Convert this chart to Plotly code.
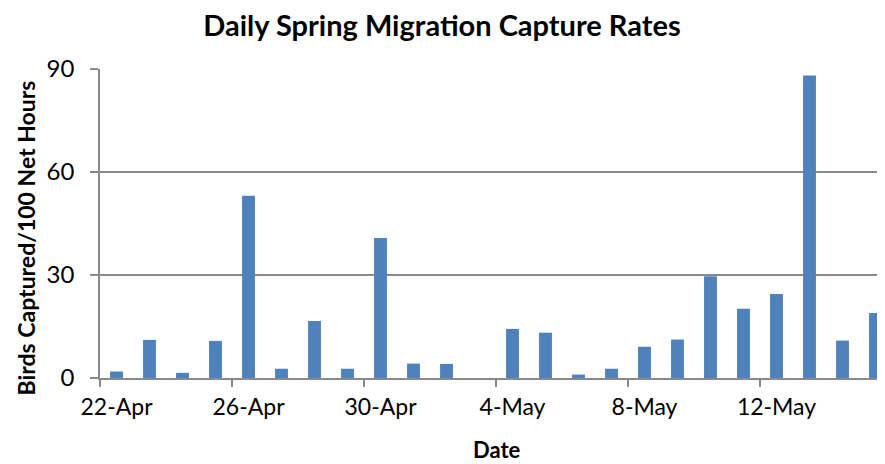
import plotly.graph_objects as go

dates = ["22-Apr", "23-Apr", "24-Apr", "25-Apr", "26-Apr", "27-Apr", "28-Apr", "29-Apr",
         "30-Apr", "1-May", "2-May", "3-May", "4-May", "5-May", "6-May", "7-May",
         "8-May", "9-May", "10-May", "11-May", "12-May", "13-May", "14-May", "15-May"]
rates = [1.9, 11.1, 1.5, 10.8, 53.1, 2.7, 16.6, 2.7,
         40.8, 4.2, 4.1, 0.0, 14.3, 13.2, 1.0, 2.7,
         9.1, 11.2, 29.6, 20.2, 24.5, 88.1, 10.9, 18.9]
y_ticks = [0, 30, 60, 90]

idx = list(range(len(dates)))
label_idx = idx[::4]
label_text = [dates[i] for i in label_idx]
boundaries = [i - 0.5 for i in label_idx]

FONT = "Lato"
GRAY = "#8a8a8a"

# the page body adds an 8px margin; work in figure pixels = screen pixels - 8
OFF = 8
W, H = 885 - OFF, 464 - OFF
L, R, T, B = 100 - OFF, 885 - OFF, 69 - OFF, 378 - OFF


def px_x(px):
    return (px - OFF - L) / (R - L)


def px_y(py):
    return (B - (py - OFF)) / (B - T)


fig = go.Figure(go.Bar(
    x=idx, y=rates, width=0.39,
    marker=dict(color="#4F81BD", line=dict(width=0)),
    hovertext=dates,
))

fig.update_layout(
    width=W, height=H,
    margin=dict(l=L, r=W - R, t=T, b=H - B),
    paper_bgcolor="white", plot_bgcolor="white",
    showlegend=False,
    font=dict(family=FONT, color="black"),
    title=dict(text="<b>Daily Spring Migration Capture Rates</b>",
               x=(442 - OFF) / W, xanchor="center", xref="container",
               y=1 - (26 - OFF) / H, yanchor="middle", yref="container",
               font=dict(family=FONT, size=29, color="black")),
    annotations=[
        dict(text="<b>Birds Captured/100 Net Hours</b>", textangle=-90,
             xref="paper", yref="paper", x=px_x(25), y=px_y(238.5),
             xanchor="center", yanchor="middle", showarrow=False,
             font=dict(family=FONT, size=23, color="black")),
        dict(text="<b>Date</b>",
             xref="paper", yref="paper", x=px_x(497), y=px_y(450),
             xanchor="center", yanchor="middle", showarrow=False,
             font=dict(family=FONT, size=22, color="black")),
    ],
)

fig.update_xaxes(
    automargin=False,
    range=[-0.5, -0.5 + (R - L) / 33],
    tickmode="array", tickvals=label_idx, ticktext=label_text,
    ticks="", showgrid=False, zeroline=False,
    showline=True, linecolor=GRAY, linewidth=1.5,
    tickfont=dict(family=FONT, size=23, color="black"),
    ticklabelstandoff=8,
    minor=dict(tickmode="array", tickvals=boundaries, ticks="outside",
               ticklen=7, tickcolor=GRAY, tickwidth=1.5, showgrid=False),
)

fig.update_yaxes(
    automargin=False,
    range=[0, 90], tickmode="array", tickvals=y_ticks,
    ticks="outside", ticklen=8, tickcolor=GRAY, tickwidth=1.5,
    showgrid=True, gridcolor=GRAY, gridwidth=1.5, zeroline=False,
    showline=True, linecolor=GRAY, linewidth=1.5,
    tickfont=dict(family=FONT, size=24, color="black"),
    ticklabelstandoff=11,
)

fig.write_html("out.html")
